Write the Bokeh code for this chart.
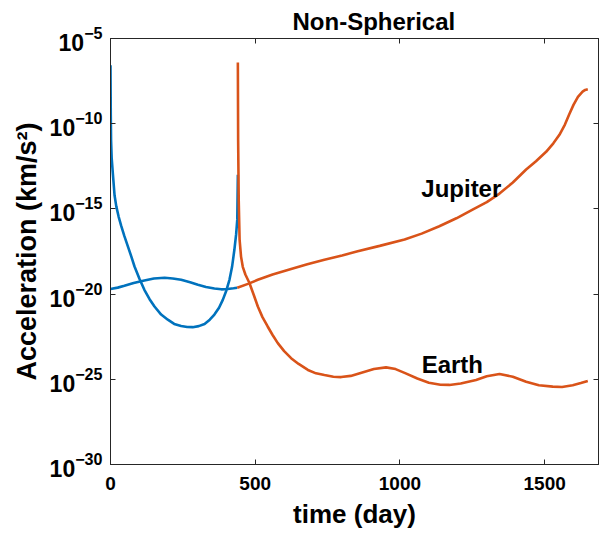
from bokeh.plotting import figure
from bokeh.models import Range1d, FixedTicker, LogAxis, LinearAxis, ColumnDataSource
from bokeh.core.properties import value
from bokeh.embed import file_html
from bokeh.resources import INLINE

# ---- data (exponents of acceleration, km/s^2) ----
blue_v_day = [0, 1, 2, 4, 8, 14, 20, 28, 37, 48, 60, 72, 83, 100, 117, 135, 152, 175, 198, 220,
              244, 265, 284, 305, 325, 343, 359, 375, 388, 400, 411, 420, 428, 434, 438, 440]
blue_v_exp = [-6.57, -9.5, -11.0, -12.0, -12.9, -14.2, -14.85, -15.45, -16.0, -16.6, -17.2, -17.8,
              -18.38, -19.1, -19.75, -20.3, -20.73, -21.2, -21.5, -21.75, -21.87, -21.93, -21.94,
              -21.88, -21.75, -21.5, -21.2, -20.8, -20.34, -19.8, -19.16, -18.4, -17.4, -16.5,
              -15.63, -13.0]

blue_flat_day = [0, 25, 48, 80, 117, 150, 187, 215, 244, 275, 302, 330, 359, 383, 405, 425, 438]
blue_flat_exp = [-19.7, -19.62, -19.51, -19.35, -19.2, -19.08, -19.04, -19.08, -19.16, -19.3,
                 -19.45, -19.58, -19.67, -19.72, -19.7, -19.66, -19.63]

jup_day = [438, 475, 509, 560, 624, 680, 739, 800, 854, 930, 1016, 1075, 1136, 1195, 1251, 1300,
           1344, 1390, 1436, 1470, 1505, 1530, 1551, 1570, 1585, 1600, 1615, 1631, 1640, 1649]
jup_exp = [-19.63, -19.4, -19.16, -18.85, -18.53, -18.25, -17.98, -17.73, -17.49, -17.17, -16.8,
           -16.45, -16.02, -15.55, -15.04, -14.6, -14.1, -13.45, -12.69, -12.2, -11.65, -11.15,
           -10.65, -10.05, -9.45, -8.88, -8.42, -8.12, -8.02, -7.98]

earth_day = [440, 441, 443, 446, 451, 457, 466, 480, 495, 509, 525, 543, 560, 578, 600, 624, 650,
             682, 710, 739, 770, 797, 830, 870, 910, 952, 985, 1020, 1060, 1100, 1140, 1171, 1210,
             1263, 1300, 1344, 1390, 1436, 1480, 1528, 1560, 1597, 1625, 1649]
earth_exp = [-6.41, -11.0, -14.5, -16.8, -17.8, -18.4, -18.85, -19.35, -20.05, -20.73, -21.35,
             -21.9, -22.4, -22.88, -23.35, -23.76, -24.1, -24.45, -24.65, -24.75, -24.85, -24.87,
             -24.8, -24.6, -24.4, -24.3, -24.4, -24.65, -24.95, -25.2, -25.32, -25.33, -25.25,
             -25.04, -24.82, -24.69, -24.85, -25.14, -25.35, -25.43, -25.45, -25.35, -25.22, -25.1]

label_text = ["Jupiter", "Earth"]
label_day = [1212, 1181]
label_exp = [-13.8, -24.16]

y_ticks_exp = [-30, -25, -20, -15, -10, -5]
x_ticks = [0, 500, 1000, 1500]

BLUE = "#0072BD"
ORANGE = "#D95319"
AX = "#262626"
FONT = "Liberation Sans"


def p10(e):
    return [10.0 ** v for v in e]


p = figure(frame_width=488, frame_height=426, y_axis_type="log",
           x_range=Range1d(0, 1686), y_range=Range1d(1e-30, 1e-5),
           output_backend="svg", toolbar_location=None, title="Non-Spherical",
           min_border_left=110, min_border_right=1, min_border_top=38, min_border_bottom=60)

p.background_fill_color = "white"
p.border_fill_color = "white"
p.outline_line_color = AX
p.outline_line_width = 1
p.grid.visible = False

p.title.align = "left"
p.title.offset = 182
p.title.text_font = FONT
p.title.text_font_size = "24px"
p.title.text_font_style = "bold"
p.title.text_color = "black"
p.title.standoff = 8

# main axes
xa = p.xaxis[0]
xa.ticker = FixedTicker(ticks=x_ticks)
xa.axis_label = "time (day)"
ya = p.yaxis[0]
ya.ticker = FixedTicker(ticks=p10(y_ticks_exp))
ya.axis_label = "Acceleration (km/s²)"

for ax in (xa, ya):
    ax.axis_line_color = AX
    ax.major_tick_line_color = AX
    ax.major_tick_in = 5
    ax.major_tick_out = 0
    ax.minor_tick_line_color = None
    ax.major_label_text_font = FONT
    ax.major_label_text_font_style = "bold"
    ax.major_label_text_color = "black"
    ax.axis_label_text_font = FONT
    ax.axis_label_text_font_style = "bold"
    ax.axis_label_text_color = "black"

xa.axis_label_text_font_size = "26px"
ya.axis_label_text_font_size = "27px"
xa.major_label_text_font_size = "19px"
xa.major_label_standoff = 12
xa.axis_label_standoff = 6
ya.major_label_text_font_size = "23px"
ya.major_label_standoff = 8
ya.axis_label_standoff = 5

# box axes (top / right), ticks only
top = LinearAxis(ticker=FixedTicker(ticks=x_ticks))
right = LogAxis(ticker=FixedTicker(ticks=p10(y_ticks_exp)))
for ax in (top, right):
    ax.axis_line_color = AX
    ax.major_tick_line_color = AX
    ax.major_tick_in = 5
    ax.major_tick_out = 0
    ax.minor_tick_line_color = None
    ax.major_label_text_font_size = "0px"
    ax.major_label_standoff = 0
    ax.major_label_text_color = None
p.add_layout(top, "above")
p.add_layout(right, "right")

# curves
p.line(blue_flat_day, p10(blue_flat_exp), line_color=BLUE, line_width=2.6)
p.line(blue_v_day, p10(blue_v_exp), line_color=BLUE, line_width=2.6)
p.line(jup_day, p10(jup_exp), line_color=ORANGE, line_width=2.6)
p.line(earth_day, p10(earth_exp), line_color=ORANGE, line_width=2.6)

src = ColumnDataSource(dict(x=label_day, y=p10(label_exp), t=label_text))
p.text(x="x", y="y", text="t", source=src, text_align="center", text_baseline="middle",
       text_font=value(FONT), text_font_style="bold", text_font_size="24px", text_color="black")

open("out.html", "w").write(file_html(p, INLINE))
